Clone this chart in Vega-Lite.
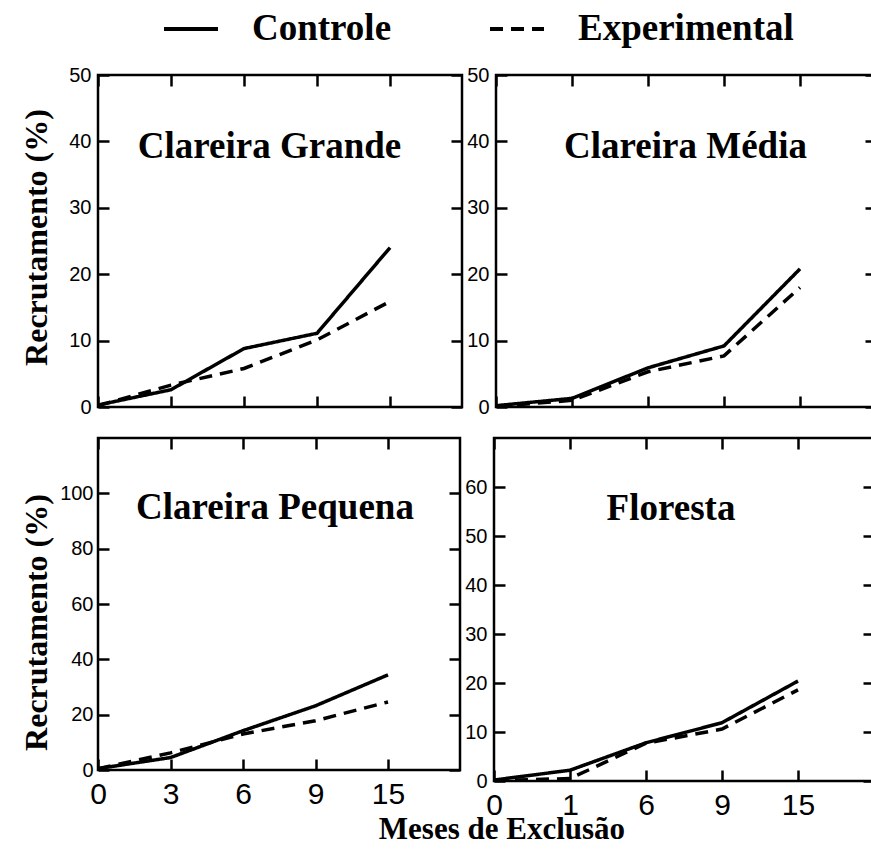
{
  "$schema": "https://vega.github.io/schema/vega-lite/v6.json",
  "background": "white",
  "padding": {"left": 19, "top": 0, "right": 0, "bottom": 2},
  "datasets": {
    "recrutamento": [
      {"painel": "Clareira Grande", "grupo": "Controle", "mes": 0, "valor": 0.3},
      {"painel": "Clareira Grande", "grupo": "Controle", "mes": 3, "valor": 2.6},
      {"painel": "Clareira Grande", "grupo": "Controle", "mes": 6, "valor": 8.8},
      {"painel": "Clareira Grande", "grupo": "Controle", "mes": 9, "valor": 11.1},
      {"painel": "Clareira Grande", "grupo": "Controle", "mes": 15, "valor": 24.0},
      {"painel": "Clareira Grande", "grupo": "Experimental", "mes": 0, "valor": 0.2},
      {"painel": "Clareira Grande", "grupo": "Experimental", "mes": 3, "valor": 3.3},
      {"painel": "Clareira Grande", "grupo": "Experimental", "mes": 6, "valor": 5.8},
      {"painel": "Clareira Grande", "grupo": "Experimental", "mes": 9, "valor": 10.1},
      {"painel": "Clareira Grande", "grupo": "Experimental", "mes": 15, "valor": 15.9},
      {"painel": "Clareira Média", "grupo": "Controle", "mes": 0, "valor": 0.2},
      {"painel": "Clareira Média", "grupo": "Controle", "mes": 1, "valor": 1.3},
      {"painel": "Clareira Média", "grupo": "Controle", "mes": 6, "valor": 5.9},
      {"painel": "Clareira Média", "grupo": "Controle", "mes": 9, "valor": 9.2},
      {"painel": "Clareira Média", "grupo": "Controle", "mes": 15, "valor": 20.8},
      {"painel": "Clareira Média", "grupo": "Experimental", "mes": 0, "valor": 0.1},
      {"painel": "Clareira Média", "grupo": "Experimental", "mes": 1, "valor": 1.0},
      {"painel": "Clareira Média", "grupo": "Experimental", "mes": 6, "valor": 5.3},
      {"painel": "Clareira Média", "grupo": "Experimental", "mes": 9, "valor": 7.7},
      {"painel": "Clareira Média", "grupo": "Experimental", "mes": 15, "valor": 18.0},
      {"painel": "Clareira Pequena", "grupo": "Controle", "mes": 0, "valor": 0.5},
      {"painel": "Clareira Pequena", "grupo": "Controle", "mes": 3, "valor": 4.5},
      {"painel": "Clareira Pequena", "grupo": "Controle", "mes": 6, "valor": 14.2},
      {"painel": "Clareira Pequena", "grupo": "Controle", "mes": 9, "valor": 23.2},
      {"painel": "Clareira Pequena", "grupo": "Controle", "mes": 15, "valor": 34.4},
      {"painel": "Clareira Pequena", "grupo": "Experimental", "mes": 0, "valor": 0.5},
      {"painel": "Clareira Pequena", "grupo": "Experimental", "mes": 3, "valor": 6.2},
      {"painel": "Clareira Pequena", "grupo": "Experimental", "mes": 6, "valor": 13.0},
      {"painel": "Clareira Pequena", "grupo": "Experimental", "mes": 9, "valor": 17.8},
      {"painel": "Clareira Pequena", "grupo": "Experimental", "mes": 15, "valor": 24.6},
      {"painel": "Floresta", "grupo": "Controle", "mes": 0, "valor": 0.2},
      {"painel": "Floresta", "grupo": "Controle", "mes": 1, "valor": 2.2},
      {"painel": "Floresta", "grupo": "Controle", "mes": 6, "valor": 7.8},
      {"painel": "Floresta", "grupo": "Controle", "mes": 9, "valor": 11.9},
      {"painel": "Floresta", "grupo": "Controle", "mes": 15, "valor": 20.4},
      {"painel": "Floresta", "grupo": "Experimental", "mes": 0, "valor": 0.1},
      {"painel": "Floresta", "grupo": "Experimental", "mes": 1, "valor": 0.5},
      {"painel": "Floresta", "grupo": "Experimental", "mes": 6, "valor": 7.7},
      {"painel": "Floresta", "grupo": "Experimental", "mes": 9, "valor": 10.6},
      {"painel": "Floresta", "grupo": "Experimental", "mes": 15, "valor": 18.6}
    ]
  },
  "title": {
    "text": "Meses de Exclusão",
    "orient": "bottom",
    "anchor": "middle",
    "font": "Liberation Serif",
    "fontWeight": "bold",
    "fontSize": 31,
    "color": "black",
    "dx": 53,
    "offset": -6
  },
  "config": {
    "view": {"stroke": "black", "strokeWidth": 2.5},
    "axis": {
      "domain": false,
      "grid": false,
      "ticks": true,
      "tickSize": -11,
      "tickWidth": 2.5,
      "tickColor": "black",
      "labelFont": "Liberation Sans",
      "labelColor": "black",
      "labelFontSize": 20,
      "titleFont": "Liberation Serif",
      "titleFontWeight": "bold",
      "titleColor": "black",
      "titleFontSize": 32
    },
    "legend": {
      "symbolType": "stroke",
      "symbolSize": 2916,
      "symbolStrokeWidth": 4,
      "symbolStrokeColor": "black",
      "labelFont": "Liberation Serif",
      "labelFontWeight": "bold",
      "labelFontSize": 37,
      "labelColor": "black",
      "labelOffset": 32,
      "columnPadding": 90,
      "labelLimit": 0
    }
  },
  "spacing": 16,
  "vconcat": [
    {
      "spacing": 0,
      "hconcat": [
        {
          "width": 364,
          "height": 332,
          "layer": [
            {
              "data": {"name": "recrutamento"},
              "transform": [{"filter": "datum.painel === 'Clareira Grande'"}],
              "mark": {"type": "line", "color": "black", "strokeWidth": 3.5},
              "encoding": {
                "x": {"field": "mes", "type": "ordinal", "scale": {"type": "point", "domain": [0, 3, 6, 9, 15], "range": [0, 292], "padding": 0}, "axis": {"orient": "bottom", "labels": false, "title": null}},
                "y": {"field": "valor", "type": "quantitative", "scale": {"domain": [0, 50], "nice": false}, "axis": {"orient": "left", "values": [0, 10, 20, 30, 40, 50], "labelPadding": 18, "title": "Recrutamento (%)", "titlePadding": 15, "titleY": 162}},
                "strokeDash": {"field": "grupo", "type": "nominal", "scale": {"domain": ["Controle", "Experimental"], "range": [[1, 0], [13, 8]]}, "legend": {"orient": "none", "legendX": 64, "legendY": -75, "direction": "horizontal", "title": null}}
              }
            },
            {
              "data": {"values": [{"painel": "Clareira Grande"}]},
              "mark": {"type": "text", "font": "Liberation Serif", "fontWeight": "bold", "fontSize": 37, "color": "black", "baseline": "alphabetic", "align": "center", "dx": 25.5},
              "encoding": {
                "x": {"datum": 6, "type": "ordinal", "axis": {"orient": "top", "labels": false, "title": null}},
                "y": {"datum": 37.5, "type": "quantitative", "axis": {"orient": "right", "values": [0, 10, 20, 30, 40, 50], "labels": false, "title": null}},
                "text": {"field": "painel"}
              }
            }
          ],
          "resolve": {"axis": {"x": "independent", "y": "independent"}}
        },
        {
          "width": 380,
          "height": 332,
          "layer": [
            {
              "data": {"name": "recrutamento"},
              "transform": [{"filter": "datum.painel === 'Clareira Média'"}],
              "mark": {"type": "line", "color": "black", "strokeWidth": 3.5},
              "encoding": {
                "x": {"field": "mes", "type": "ordinal", "scale": {"type": "point", "domain": [0, 1, 6, 9, 15], "range": [0, 304], "padding": 0}, "axis": {"orient": "bottom", "labels": false, "title": null}},
                "y": {"field": "valor", "type": "quantitative", "scale": {"domain": [0, 50], "nice": false}, "axis": {"orient": "left", "values": [0, 10, 20, 30, 40, 50], "labelPadding": 18, "title": null}},
                "strokeDash": {"field": "grupo", "type": "nominal", "scale": {"domain": ["Controle", "Experimental"], "range": [[1, 0], [13, 8]]}, "legend": {"orient": "none", "legendX": 64, "legendY": -75, "direction": "horizontal", "title": null}}
              }
            },
            {
              "data": {"values": [{"painel": "Clareira Média"}]},
              "mark": {"type": "text", "font": "Liberation Serif", "fontWeight": "bold", "fontSize": 37, "color": "black", "baseline": "alphabetic", "align": "center", "dx": 37.5},
              "encoding": {
                "x": {"datum": 6, "type": "ordinal", "axis": {"orient": "top", "labels": false, "title": null}},
                "y": {"datum": 37.5, "type": "quantitative", "axis": {"orient": "right", "values": [0, 10, 20, 30, 40, 50], "labels": false, "title": null}},
                "text": {"field": "painel"}
              }
            }
          ],
          "resolve": {"axis": {"x": "independent", "y": "independent"}}
        }
      ]
    },
    {
      "spacing": 0,
      "hconcat": [
        {
          "width": 362,
          "height": 332,
          "layer": [
            {
              "data": {"name": "recrutamento"},
              "transform": [{"filter": "datum.painel === 'Clareira Pequena'"}],
              "mark": {"type": "line", "color": "black", "strokeWidth": 3.5},
              "encoding": {
                "x": {"field": "mes", "type": "ordinal", "scale": {"type": "point", "domain": [0, 3, 6, 9, 15], "range": [0, 290], "padding": 0}, "axis": {"orient": "bottom", "labelFontSize": 30, "labelPadding": 20, "labelAngle": 0, "title": null}},
                "y": {"field": "valor", "type": "quantitative", "scale": {"domain": [0, 120], "nice": false}, "axis": {"orient": "left", "values": [0, 20, 40, 60, 80, 100], "labelPadding": 16, "title": "Recrutamento (%)", "titlePadding": 6, "titleY": 184}},
                "strokeDash": {"field": "grupo", "type": "nominal", "scale": {"domain": ["Controle", "Experimental"], "range": [[1, 0], [13, 8]]}, "legend": {"orient": "none", "legendX": 64, "legendY": -75, "direction": "horizontal", "title": null}}
              }
            },
            {
              "data": {"values": [{"painel": "Clareira Pequena"}]},
              "mark": {"type": "text", "font": "Liberation Serif", "fontWeight": "bold", "fontSize": 37, "color": "black", "baseline": "alphabetic", "align": "center", "dx": 32},
              "encoding": {
                "x": {"datum": 6, "type": "ordinal", "axis": {"orient": "top", "labels": false, "title": null}},
                "y": {"datum": 90.8, "type": "quantitative", "axis": {"orient": "right", "values": [0, 20, 40, 60, 80, 100], "labels": false, "title": null}},
                "text": {"field": "painel"}
              }
            }
          ],
          "resolve": {"axis": {"x": "independent", "y": "independent"}}
        },
        {
          "width": 380,
          "height": 343,
          "layer": [
            {
              "data": {"name": "recrutamento"},
              "transform": [{"filter": "datum.painel === 'Floresta'"}],
              "mark": {"type": "line", "color": "black", "strokeWidth": 3.5},
              "encoding": {
                "x": {"field": "mes", "type": "ordinal", "scale": {"type": "point", "domain": [0, 1, 6, 9, 15], "range": [0, 304], "padding": 0}, "axis": {"orient": "bottom", "labelFontSize": 30, "labelPadding": 20, "labelAngle": 0, "title": null, "encode": {"labels": {"update": {"font": {"signal": "datum.value == 15 ? 'Liberation Serif' : 'Liberation Sans'"}}}}}},
                "y": {"field": "valor", "type": "quantitative", "scale": {"domain": [0, 70], "nice": false}, "axis": {"orient": "left", "values": [0, 10, 20, 30, 40, 50, 60], "labelPadding": 18, "title": null}},
                "strokeDash": {"field": "grupo", "type": "nominal", "scale": {"domain": ["Controle", "Experimental"], "range": [[1, 0], [13, 8]]}, "legend": {"orient": "none", "legendX": 64, "legendY": -75, "direction": "horizontal", "title": null}}
              }
            },
            {
              "data": {"values": [{"painel": "Floresta"}]},
              "mark": {"type": "text", "font": "Liberation Serif", "fontWeight": "bold", "fontSize": 37, "color": "black", "baseline": "alphabetic", "align": "center", "dx": 25},
              "encoding": {
                "x": {"datum": 6, "type": "ordinal", "axis": {"orient": "top", "labels": false, "title": null}},
                "y": {"datum": 53.3, "type": "quantitative", "axis": {"orient": "right", "values": [0, 10, 20, 30, 40, 50, 60], "labels": false, "title": null}},
                "text": {"field": "painel"}
              }
            }
          ],
          "resolve": {"axis": {"x": "independent", "y": "independent"}}
        }
      ]
    }
  ]
}
